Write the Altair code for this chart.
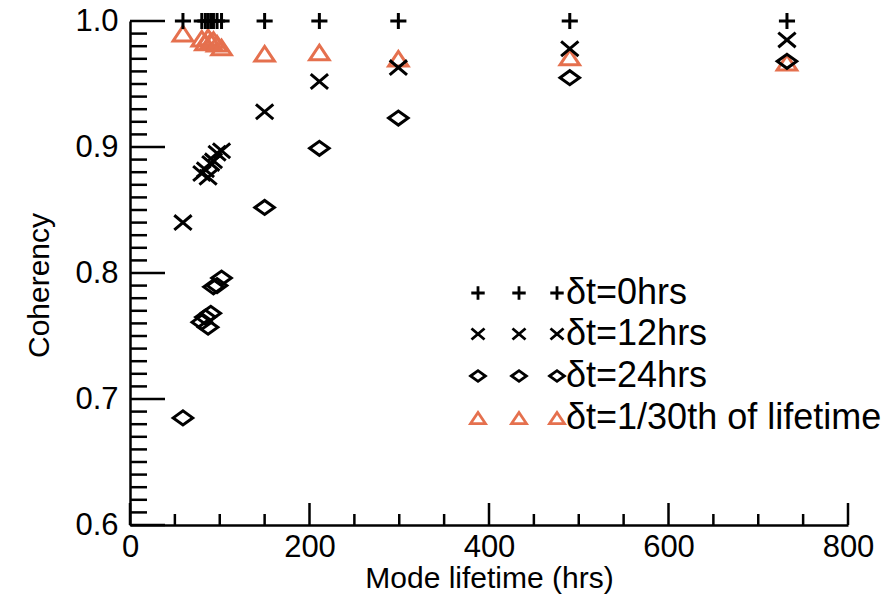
import altair as alt
import pandas as pd

# ---- data ----
lifetime = [59, 80, 84, 87, 90, 93, 97, 102, 150, 211, 299, 490, 732]
coh_0hrs = [1.0] * 13
coh_12hrs = [0.840, 0.879, 0.882, 0.876, 0.887, 0.889, 0.895, 0.897, 0.928, 0.952, 0.963, 0.978, 0.985]
coh_24hrs = [0.685, 0.761, 0.765, 0.757, 0.768, 0.789, 0.790, 0.796, 0.852, 0.899, 0.923, 0.955, 0.968]
coh_30th = [0.990, 0.986, 0.983, 0.987, 0.984, 0.985, 0.982, 0.979, 0.974, 0.975, 0.970, 0.971, 0.967]

series_labels = ["δt=0hrs", "δt=12hrs", "δt=24hrs", "δt=1/30th of lifetime"]

x_major = [0, 200, 400, 600, 800]
x_minor = [v for v in range(50, 800, 50) if v % 200 != 0]
y_major = [0.6, 0.7, 0.8, 0.9, 1.0]
y_minor = [round(0.6 + 0.01 * i, 2) for i in range(1, 40) if i % 10 != 0]

FONT = "Liberation Sans"
ORANGE = "#E5704E"
PLUS = "M-1,0L1,0M0,-1L0,1"
XSHAPE = "M-1,-0.85L1,0.85M-1,0.85L1,-0.85"
DIAMOND = "M-1,0L0,-0.72L1,0L0,0.72Z"
TRIANGLE = "M-1,0.75L0,-0.75L1,0.75Z"

xscale = alt.Scale(domain=[0, 800], nice=False, zero=False)
yscale = alt.Scale(domain=[0.6, 1.0], nice=False, zero=False)

def series_layer(values, shape, color, size, axes=False):
    df = pd.DataFrame({"lifetime": lifetime, "coh": values})
    if axes:
        xenc = alt.X("lifetime:Q", scale=xscale, title="Mode lifetime (hrs)",
                     axis=alt.Axis(values=x_major, format="d", ticks=False, grid=False,
                                   domainWidth=2.5, domainColor="black",
                                   labelFont=FONT, labelFontSize=31, labelColor="black",
                                   labelPadding=7, labelFlush=False,
                                   titleFont=FONT, titleFontSize=30, titleFontWeight="normal",
                                   titleColor="black", titlePadding=1))
        yenc = alt.Y("coh:Q", scale=yscale, title="Coherency",
                     axis=alt.Axis(values=y_major, format=".1f", ticks=False, grid=False,
                                   domainWidth=2.5, domainColor="black",
                                   labelFont=FONT, labelFontSize=31, labelColor="black",
                                   labelPadding=12, labelFlush=False,
                                   titleFont=FONT, titleFontSize=30, titleFontWeight="normal",
                                   titleColor="black", titlePadding=20, titleY=264))
    else:
        xenc = alt.X("lifetime:Q", scale=xscale)
        yenc = alt.Y("coh:Q", scale=yscale)
    return alt.Chart(df).mark_point(shape=shape, filled=False, color=color, size=size,
                                    strokeWidth=3, opacity=1).encode(x=xenc, y=yenc)

def yticks(vals, length):
    return alt.Chart(pd.DataFrame({"v": vals})).mark_rule(color="black", strokeWidth=2.5).encode(
        y=alt.Y("v:Q", scale=yscale), x=alt.value(0), x2=alt.value(length))

def xticks(vals, length):
    return alt.Chart(pd.DataFrame({"v": vals})).mark_rule(color="black", strokeWidth=2.5).encode(
        x=alt.X("v:Q", scale=xscale), y=alt.value(504), y2=alt.value(504 - length))

layers = [
    series_layer(coh_30th, TRIANGLE, ORANGE, 380, axes=True),
    yticks(y_major, 35), yticks(y_minor, 17),
    xticks(x_major, 22), xticks(x_minor, 11),
    series_layer(coh_0hrs, PLUS, "black", 260),
    series_layer(coh_12hrs, XSHAPE, "black", 300),
    series_layer(coh_24hrs, DIAMOND, "black", 380),
]

# ---- legend (IDL style: three symbols then label) ----
shapes = [PLUS, XSHAPE, DIAMOND, TRIANGLE]
colors = ["black", "black", "black", ORANGE]
sizes = [180, 170, 220, 220]
row_y = [272, 313, 355, 397]
sym_x = [348, 389, 427]
for i, lab in enumerate(series_labels):
    ldf = pd.DataFrame({"label": [lab]})
    for sx in sym_x:
        layers.append(alt.Chart(ldf).mark_point(shape=shapes[i], filled=False, color=colors[i],
                                                size=sizes[i], strokeWidth=2.8, opacity=1)
                      .encode(x=alt.value(sx), y=alt.value(row_y[i])))
    layers.append(alt.Chart(ldf).mark_text(align="left", baseline="middle", font=FONT,
                                           fontSize=36, color="black")
                  .encode(x=alt.value(436), y=alt.value(row_y[i]), text="label:N"))

chart = alt.layer(*layers).properties(
    width=718, height=504,
    padding={"left": 130, "top": 21, "right": 37, "bottom": 74},
    autosize=alt.AutoSizeParams(type="none"),
    background="white",
).configure_view(strokeWidth=0)

chart.save("out.html", embed_options={"renderer": "svg", "actions": False})
